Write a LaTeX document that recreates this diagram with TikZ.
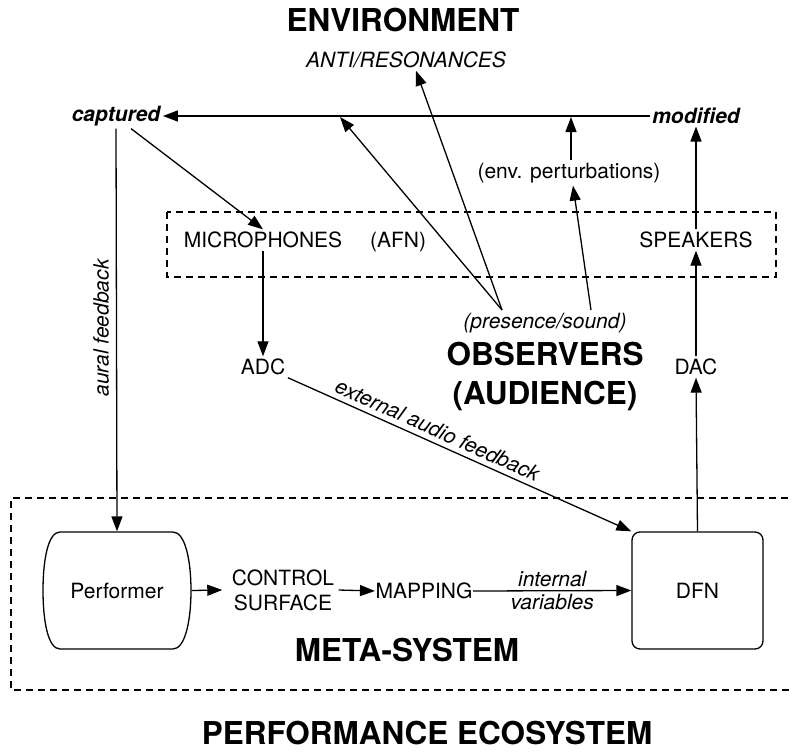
\documentclass[tikz,border=0pt]{standalone}
\usepackage{fontspec}
\setmainfont{TeX Gyre Heros}
\usetikzlibrary{arrows.meta,calc}
\begin{document}
\begin{tikzpicture}[x=1pt,y=-1pt,
  line width=1.3pt,
  arr/.style={-{Triangle[length=15pt,width=11pt]}},
  txt/.style={font=\fontsize{21}{25}\selectfont, inner sep=2pt},
  itx/.style={font=\fontsize{21}{25}\selectfont\itshape, inner sep=2pt},
  bix/.style={font=\fontsize{21}{25}\selectfont\bfseries\itshape, inner sep=2pt},
  ttl/.style={font=\fontsize{31.5}{39}\selectfont\bfseries, inner sep=2pt, align=center},
  dashbox/.style={dash pattern=on 7pt off 5pt, line width=1.3pt},
]
\useasboundingbox (0,0) rectangle (792,752);
\clip (0,0) rectangle (792,752);

% titles and labels
\node[ttl] (env) at (403,20) {ENVIRONMENT};
\node[itx] (anti) at (406,60) {ANTI/RESONANCES};
\node[bix] (cap) at (116,116) {captured};
\node[bix] (mod) at (696,116) {modified};
\coordinate (j1) at (340,117);
\coordinate (j2) at (571,117);
\node[txt] (envp) at (569,173) {(env. perturbations)};

% AFN box
\draw[dashbox] (167,212) rectangle (776,277);
\node[txt] (mic) at (263,240) {MICROPHONES};
\node[txt] (afn) at (398,242) {(AFN)};
\node[txt] (spk) at (696,240) {SPEAKERS};

\node[itx] (pres) at (545,323) {(presence/sound)};
\node[ttl] (obs) at (545,376) {OBSERVERS\\(AUDIENCE)};
\node[txt] (adc) at (263,367) {ADC};
\node[txt] (dac) at (696,367) {DAC};
\coordinate (o1) at (502,310);
\coordinate (o2) at (591,310);

\node[itx, rotate=90] (aural) at (101,328) {aural feedback};

% meta-system
\draw[dashbox] (800,498) -- (11,498) -- (11,690) -- (800,690);
\node[txt, minimum width=148pt, minimum height=117pt] (perf) at (117,590.5) {Performer};
\draw (60,532) -- (173,532)
  .. controls (185,532) and (191,560) .. (191,590.5)
  .. controls (191,621) and (185,649) .. (173,649)
  -- (60,649)
  .. controls (48,649) and (43,621) .. (43,590.5)
  .. controls (43,560) and (48,532) .. (60,532) -- cycle;
\node[txt, draw, rounded corners=8pt, minimum width=131pt, minimum height=117pt] (dfn) at (697.5,590.5) {DFN};
\node[txt, align=center] (ctrl) at (283,590) {CONTROL\\SURFACE};
\node[txt, inner sep=0pt] (map) at (424,591) {MAPPING};
\node[ttl] (meta) at (407,650) {META-SYSTEM};
\node[ttl] (eco) at (427,733) {PERFORMANCE ECOSYSTEM};

% connectors
\draw[arr] (mod) -- (cap);
\draw[arr] (o1) -- ([xshift=10pt]anti.south);
\draw[arr] (o1) -- (j1);
\draw[arr] (o2) -- ([xshift=4pt]envp.south);
\draw[arr] (envp.north -| j2) -- (j2);
\draw[arr] ([xshift=15pt]cap.south) -- (mic.north);
\draw[arr] (cap.south) -- (perf.north);
\draw[arr] (mic) -- (adc);
\draw[arr] (adc.south east) -- node[pos=0.42, above=3pt, sloped, itx] {external audio feedback} (dfn.north west);
\draw[arr] (dfn.north) -- (dac.south);
\draw[arr] (dac) -- (spk);
\draw[arr] (spk) -- (mod);
\draw[arr] (perf.east) -- ([xshift=-7pt]ctrl.west);
\draw[arr] ([xshift=2pt]ctrl.east) -- (map.west);
\draw[arr] (map.east) -- node[above=1pt, itx]{internal} node[below=1pt, itx]{variables} (dfn.west);
\end{tikzpicture}
\end{document}
